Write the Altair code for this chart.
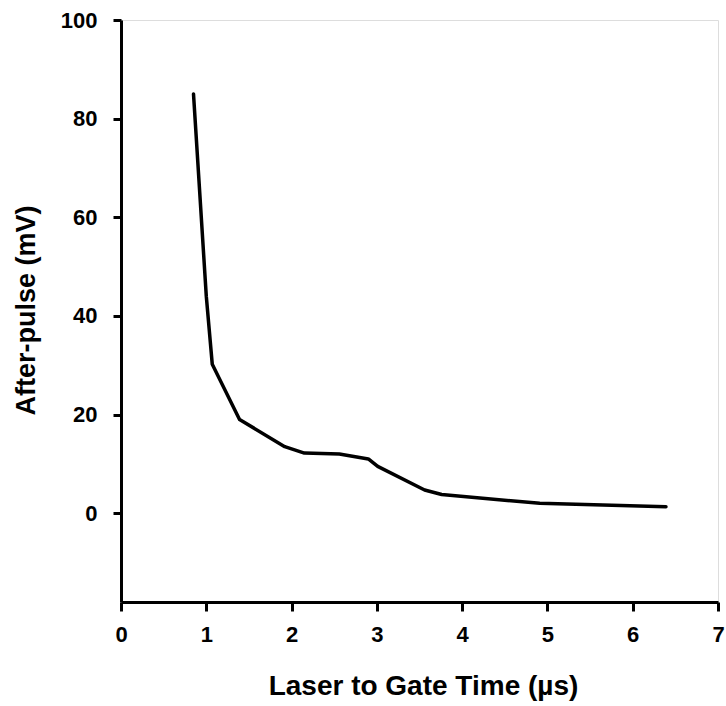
import altair as alt
import pandas as pd

# Values
time_us = [0.85, 1.00, 1.07, 1.39, 1.92, 2.15, 2.56, 2.90, 3.01, 3.56, 3.76, 4.91, 6.39]
after_pulse_mv = [85.0, 44.0, 30.2, 19.0, 13.5, 12.2, 12.0, 11.0, 9.5, 4.7, 3.8, 2.0, 1.3]
x_ticks = [0, 1, 2, 3, 4, 5, 6, 7]
y_ticks = [0, 20, 40, 60, 80, 100]

df = pd.DataFrame({"t": time_us, "v": after_pulse_mv})

FONT = "Liberation Sans, Arial, sans-serif"

chart = (
    alt.Chart(df)
    .mark_line(color="black", strokeWidth=3.5, strokeCap="round", strokeJoin="round")
    .encode(
        x=alt.X(
            "t:Q",
            scale=alt.Scale(domain=[0, 7], nice=False, zero=False),
            axis=alt.Axis(
                title="Laser to Gate Time (µs)",
                values=x_ticks,
                format="d",
                grid=False,
                domainColor="black",
                domainWidth=3,
                tickColor="black",
                tickWidth=3,
                tickSize=9,
                labelFont=FONT,
                labelFontSize=22,
                labelFontWeight="bold",
                labelColor="black",
                labelPadding=13,
                labelFlush=False,
                titleFont=FONT,
                titleFontSize=28,
                titleFontWeight="bold",
                titleColor="black",
                titleBaseline="alphabetic",
                titleX=302,
                titleY=92,
            ),
        ),
        y=alt.Y(
            "v:Q",
            scale=alt.Scale(domain=[-18, 100], nice=False, zero=False),
            axis=alt.Axis(
                title="After-pulse (mV)",
                values=y_ticks,
                format="d",
                grid=False,
                domainColor="black",
                domainWidth=3,
                tickColor="black",
                tickWidth=3,
                tickSize=8,
                labelFont=FONT,
                labelFontSize=22,
                labelFontWeight="bold",
                labelColor="black",
                labelPadding=16,
                labelFlush=False,
                titleFont=FONT,
                titleFontSize=27,
                titleFontWeight="bold",
                titleColor="black",
                titleBaseline="alphabetic",
                titleAngle=270,
                titleX=-87,
                titleY=290,
            ),
        ),
    )
    .properties(
        width=597,
        height=582,
        autosize=alt.AutoSizeParams(type="none"),
        padding={"left": 121, "top": 20, "right": 8, "bottom": 104},
    )
    .configure_view(stroke="black", strokeWidth=3)
    .configure(background="white")
)

chart.save("out.html", embed_options={"renderer": "svg", "actions": False})
